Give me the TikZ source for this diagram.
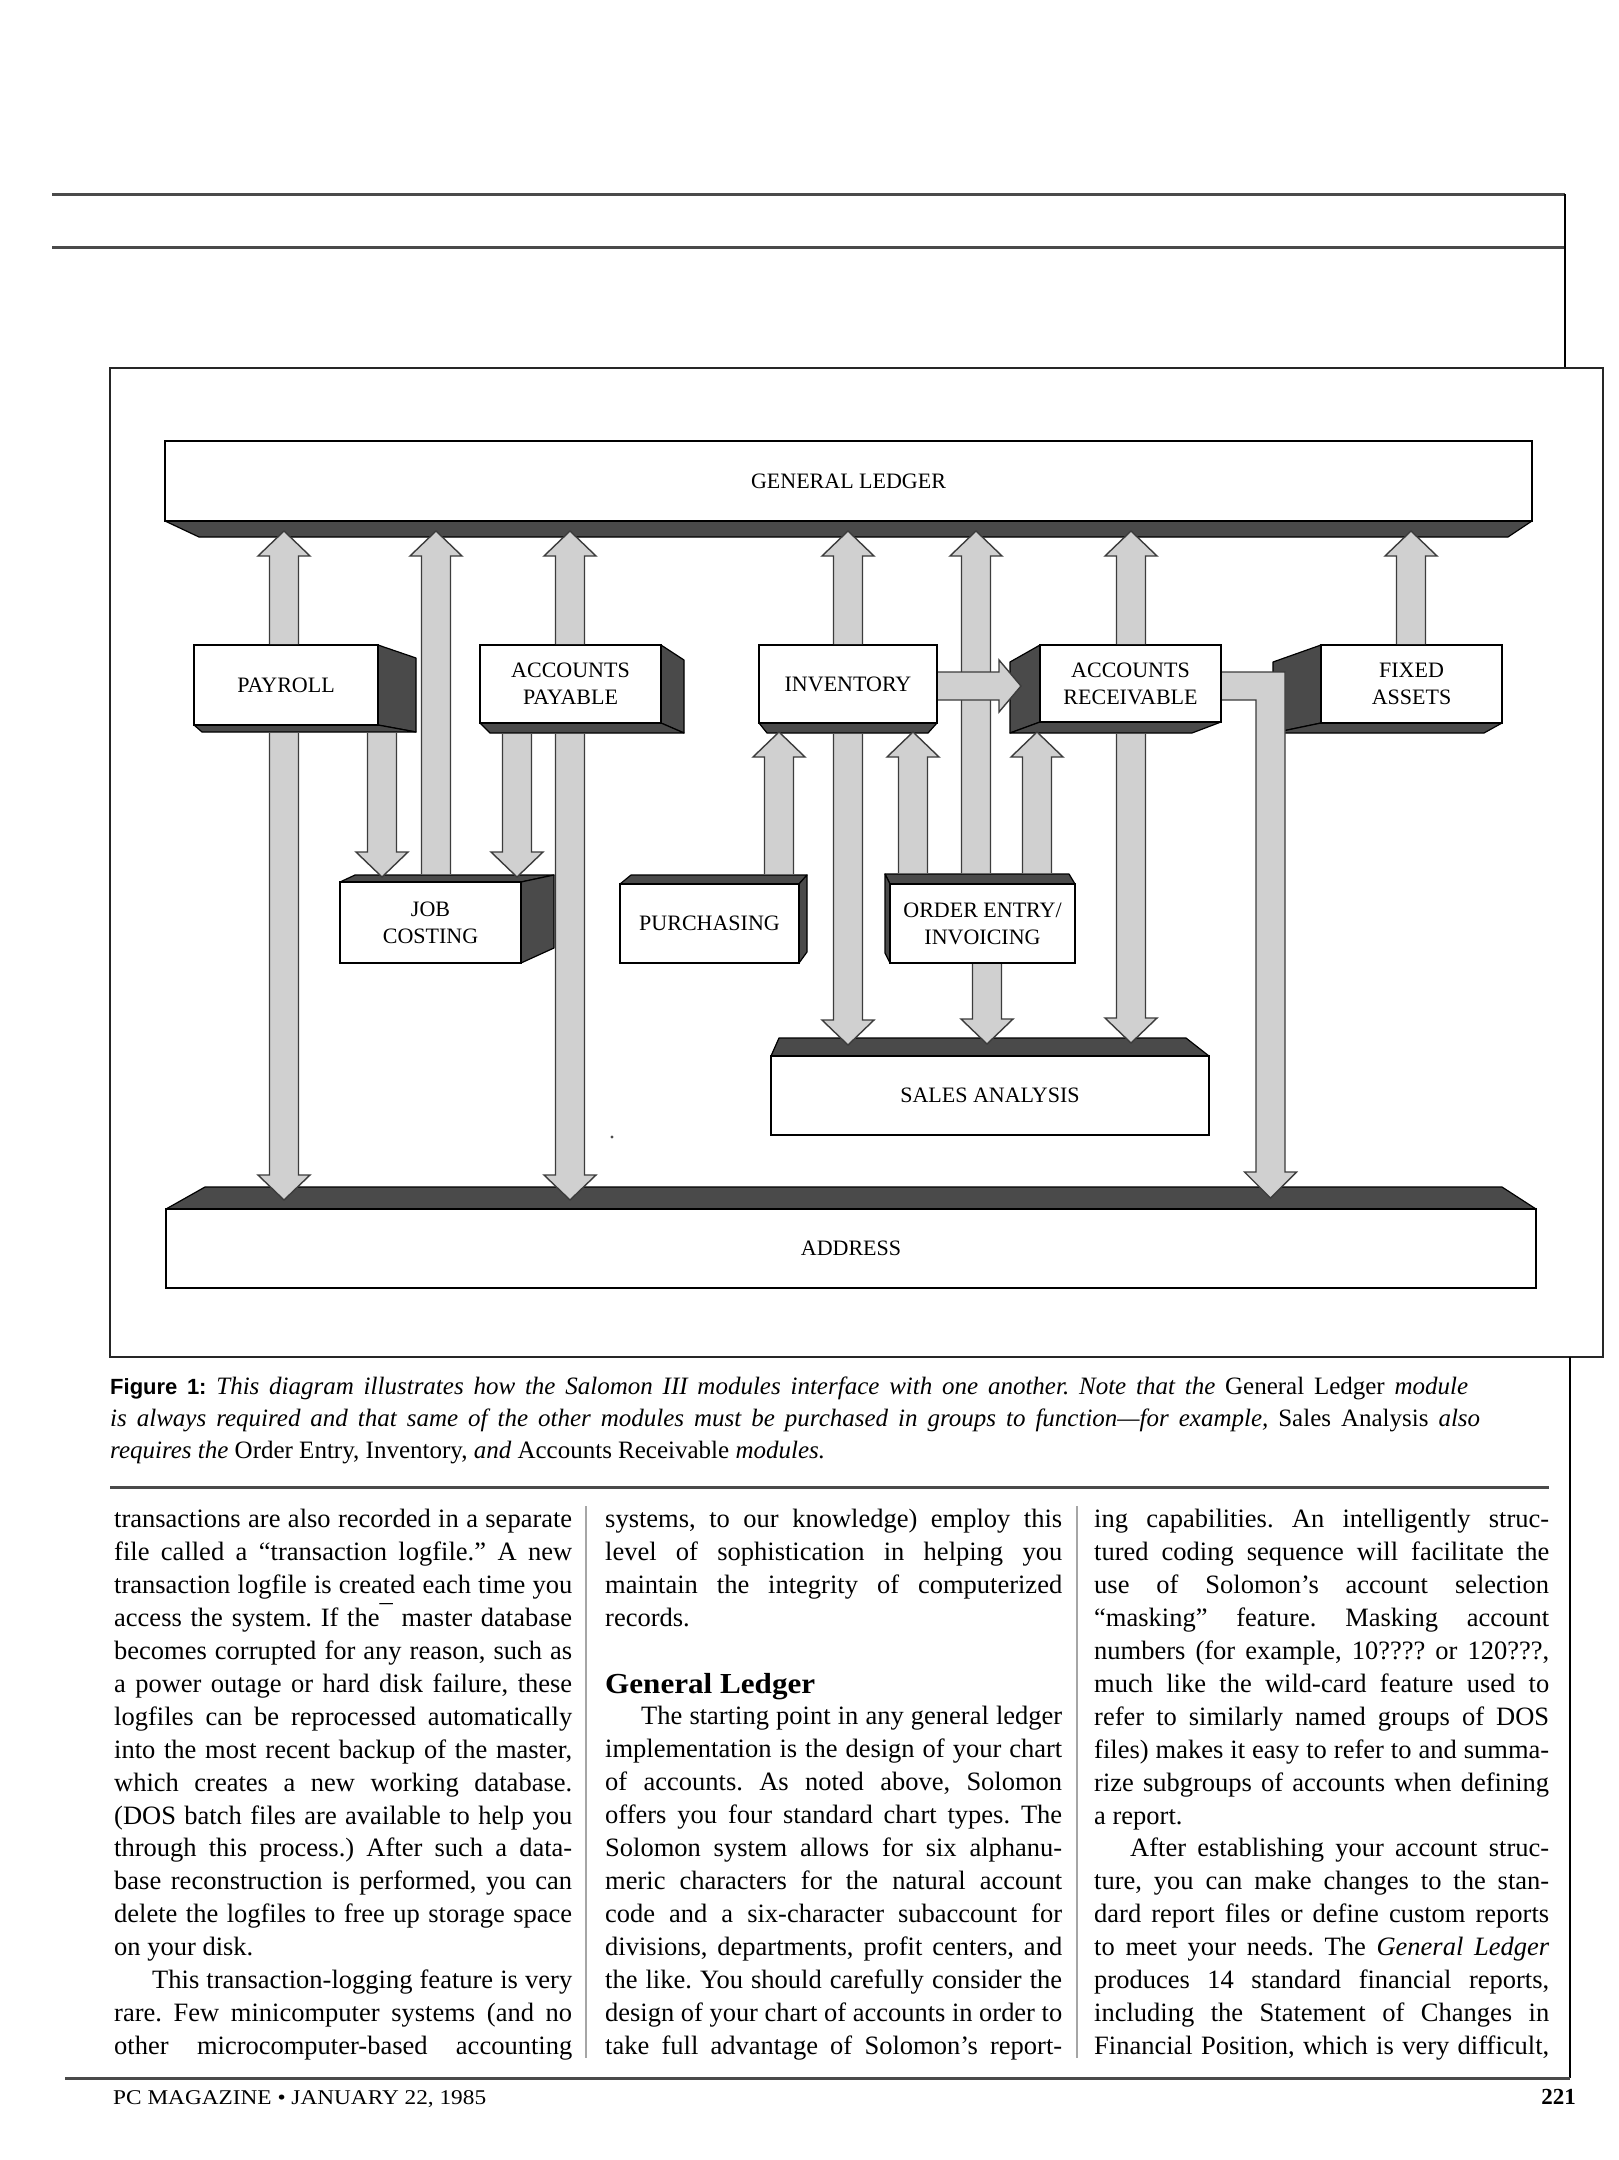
\documentclass[tikz,border=0pt]{standalone}
\usepackage{fontspec}
\setmainfont{Liberation Serif}
\newfontfamily\capsans{Liberation Sans}
\usepackage{graphicx}
\definecolor{facegray}{HTML}{4A4A4A}
\definecolor{arrowgray}{HTML}{D0D0D0}
\definecolor{arrowedge}{HTML}{3C3C3C}
\definecolor{rulegray}{HTML}{4A4A4A}
\newsavebox\jlbox
\newcommand\jline[2]{\sbox\jlbox{#2}\ifdim\wd\jlbox>#1\relax\resizebox{#1}{\height}{\usebox\jlbox}\else\makebox[#1][s]{#2}\fi}
\tikzset{
 front/.style={draw=black, fill=white, line width=1.8pt, inner sep=0pt, align=center, font=\fontsize{22}{27}\selectfont},
 face/.style={draw=black, fill=facegray, line width=1.2pt, line join=round},
 arrfill/.style={fill=arrowgray},
 arrline/.style={draw=arrowedge, line width=1.4pt, line join=miter},
 rule/.style={draw=rulegray, line width=3pt},
 thinrule/.style={draw=black, line width=1.6pt},
 colsep/.style={draw=gray!70, line width=2.2pt},
 body/.style={anchor=base west, inner sep=0pt, font=\fontsize{26.5}{33}\selectfont\frenchspacing},
 captext/.style={anchor=base west, inner sep=0pt, font=\fontsize{25}{30}\selectfont\frenchspacing},
}
% vertical block arrow: x, y of base, y of tip
\newcommand\varr[3]{%
 \pgfmathsetmacro\arrHB{#3-25*sign(#3-#2)}%
 \fill[arrfill] ({#1-14.5},#2) -- ({#1-14.5},\arrHB) -- ({#1-26},\arrHB) -- (#1,#3) -- ({#1+26},\arrHB) -- ({#1+14.5},\arrHB) -- ({#1+14.5},#2) -- cycle;
 \draw[arrline] ({#1-14.5},#2) -- ({#1-14.5},\arrHB) -- ({#1-26},\arrHB) -- (#1,#3) -- ({#1+26},\arrHB) -- ({#1+14.5},\arrHB) -- ({#1+14.5},#2);
}
\begin{document}
\frenchspacing
\begin{tikzpicture}[x=1pt,y=-1pt]
\useasboundingbox (0,0) rectangle (1618,2160);
\fill[white] (0,0) rectangle (1618,2160);

% ---------- page rules ----------
\draw[rule] (52,194) -- (1565,194);
\draw[rule] (52,247) -- (1565,247);
\draw[thinrule] (1565,194) -- (1565,368);
\draw[line width=2.4pt, draw=black!85] (110,368) rectangle (1603,1357);
\draw[thinrule] (1570,1357) -- (1570,2078);
\draw[rule] (110,1487) -- (1549,1487);
\draw[rule] (65,2078) -- (1570,2078);
\draw[colsep] (586,1506) -- (586,2058);
\draw[colsep] (1077,1506) -- (1077,2058);

% ---------- big bars ----------
\draw[face] (165,521) -- (1532,521) -- (1508,537) -- (199,537) -- cycle;
\node[front, minimum width=1367, minimum height=80] (gl) at (848.5,481) {GENERAL LEDGER};
\draw[face] (166,1209) -- (205,1187) -- (1502,1187) -- (1536,1209) -- cycle;
\node[front, minimum width=1370, minimum height=79] (addr) at (851,1248.5) {ADDRESS};
\draw[face] (771,1056) -- (779,1038) -- (1186,1038) -- (1209,1056) -- cycle;
\node[front, minimum width=438, minimum height=79] (sa) at (990,1095.5) {SALES ANALYSIS};

% ---------- module boxes, row 1 ----------
\draw[face] (378,645) -- (416,658) -- (416,732) -- (378,725) -- cycle;
\draw[face] (194,725) -- (378,725) -- (416,732) -- (202,732) -- cycle;
\node[front, minimum width=184, minimum height=80] (pay) at (286,685) {PAYROLL};

\draw[face] (661,645) -- (684,660) -- (684,733) -- (661,723) -- cycle;
\draw[face] (480,723) -- (661,723) -- (684,733) -- (490,733) -- cycle;
\node[front, minimum width=181, minimum height=78] (ap) at (570.5,684) {ACCOUNTS\\PAYABLE};

\draw[face] (759,723) -- (937,723) -- (928,733) -- (767,733) -- cycle;
\node[front, minimum width=178, minimum height=78] (inv) at (848,684) {INVENTORY};

\draw[face] (1040,645) -- (1010,662) -- (1010,733) -- (1040,722) -- cycle;
\draw[face] (1010,733) -- (1040,722) -- (1221,722) -- (1192,733) -- cycle;
\node[front, minimum width=181, minimum height=77] (ar) at (1130.5,683.5) {ACCOUNTS\\RECEIVABLE};

\draw[face] (1321,645) -- (1273,662) -- (1273,733) -- (1321,723) -- cycle;
\draw[face] (1273,733) -- (1321,723) -- (1502,723) -- (1484,733) -- cycle;
\node[front, minimum width=181, minimum height=78] (fa) at (1411.5,684) {FIXED\\ASSETS};

% ---------- module boxes, row 2 ----------
\draw[face] (340,882) -- (355,875) -- (554,875) -- (521,882) -- cycle;
\draw[face] (521,882) -- (554,875) -- (554,948) -- (521,963) -- cycle;
\node[front, minimum width=181, minimum height=81] (jc) at (430.5,922.5) {JOB\\COSTING};

\draw[face] (620,884) -- (631,875) -- (807,875) -- (799,884) -- cycle;
\draw[face] (799,884) -- (807,875) -- (807,952) -- (799,963) -- cycle;
\node[front, minimum width=179, minimum height=79] (pur) at (709.5,923.5) {PURCHASING};

\draw[face] (890,884) -- (885,874) -- (1069,874) -- (1075,884) -- cycle;
\draw[face] (890,884) -- (885,874) -- (885,953) -- (890,963) -- cycle;
\node[front, minimum width=185, minimum height=79] (oe) at (982.5,923.5) {ORDER ENTRY/\\INVOICING};

% ---------- arrows ----------
\varr{284}{644}{531}
\varr{436}{874}{531}
\varr{570}{644}{531}
\varr{848}{644}{531}
\varr{976}{873}{531}
\varr{1131}{644}{531}
\varr{1411}{644}{531}
\varr{284}{733}{1200}
\varr{570}{734}{1200}
\varr{382}{733}{877}
\varr{517}{734}{877}
\varr{848}{734}{1045}
\varr{987}{964}{1044}
\varr{1131}{734}{1043}
\varr{779}{874}{732}
\varr{913}{873}{732}
\varr{1037}{873}{732}
% inventory -> accounts receivable
\fill[arrfill] (938,672) -- (999,672) -- (999,660) -- (1021,686) -- (999,712) -- (999,700) -- (938,700) -- cycle;
\draw[arrline] (938,672) -- (999,672) -- (999,660) -- (1021,686) -- (999,712) -- (999,700) -- (938,700);
% accounts receivable -> address
\fill[arrfill] (1222,672) -- (1285,672) -- (1285,1172) -- (1296.5,1172) -- (1270.5,1198) -- (1244.5,1172) -- (1256,1172) -- (1256,700) -- (1222,700) -- cycle;
\draw[arrline] (1222,672) -- (1285,672) -- (1285,1172) -- (1296.5,1172) -- (1270.5,1198) -- (1244.5,1172) -- (1256,1172) -- (1256,700) -- (1222,700);
\fill[black!70] (612,1137) circle (1.6);

% ---------- caption ----------
\node[captext] (cap1) at (110,1394) {\jline{1358pt}{{\capsans\bfseries\fontsize{22}{24}\selectfont Figure 1:} \textit{This diagram illustrates how the Salomon III modules interface with one another. Note that the} General Ledger \textit{module}}};
\node[captext] (cap2) at (110,1426) {\jline{1370pt}{\textit{is always required and that same of the other modules must be purchased in groups to function---for example,} Sales Analysis \textit{also}}};
\node[captext] (cap3) at (110,1458) {\textit{requires the} Order Entry, Inventory, \textit{and} Accounts Receivable \textit{modules.}};

% ---------- column 1 ----------
\node[body] (a1) at (114,1527) {\jline{458pt}{transactions are also recorded in a separate}};
\node[body] (a2) at (114,1560) {\jline{458pt}{file called a ``transaction logfile.'' A new}};
\node[body] (a3) at (114,1593) {\jline{458pt}{transaction logfile is created each time you}};
\node[body] (a4) at (114,1626) {\jline{458pt}{access the system. If the\raisebox{3pt}{¯} master database}};
\node[body] (a5) at (114,1659) {\jline{458pt}{becomes corrupted for any reason, such as}};
\node[body] (a6) at (114,1692) {\jline{458pt}{a power outage or hard disk failure, these}};
\node[body] (a7) at (114,1725) {\jline{458pt}{logfiles can be reprocessed automatically}};
\node[body] (a8) at (114,1758) {\jline{458pt}{into the most recent backup of the master,}};
\node[body] (a9) at (114,1791) {\jline{458pt}{which creates a new working database.}};
\node[body] (a10) at (114,1824) {\jline{458pt}{(DOS batch files are available to help you}};
\node[body] (a11) at (114,1856) {\jline{458pt}{through this process.) After such a data-}};
\node[body] (a12) at (114,1889) {\jline{458pt}{base reconstruction is performed, you can}};
\node[body] (a13) at (114,1922) {\jline{458pt}{delete the logfiles to free up storage space}};
\node[body] (a14) at (114,1955) {on your disk.};
\node[body] (a15) at (152,1988) {\jline{420pt}{This transaction-logging feature is very}};
\node[body] (a16) at (114,2021) {\jline{458pt}{rare. Few minicomputer systems (and no}};
\node[body] (a17) at (114,2054) {\jline{458pt}{other microcomputer-based accounting}};

% ---------- column 2 ----------
\node[body] (b1) at (605,1527) {\jline{457pt}{systems, to our knowledge) employ this}};
\node[body] (b2) at (605,1560) {\jline{457pt}{level of sophistication in helping you}};
\node[body] (b3) at (605,1593) {\jline{457pt}{maintain the integrity of computerized}};
\node[body] (b4) at (605,1626) {records.};
\node[anchor=base west, inner sep=0pt, font=\fontsize{29}{33}\selectfont\bfseries] (head) at (605,1693) {\resizebox{210pt}{\height}{General Ledger}};
\node[body] (b6) at (641,1724) {\jline{421pt}{The starting point in any general ledger}};
\node[body] (b7) at (605,1757) {\jline{457pt}{implementation is the design of your chart}};
\node[body] (b8) at (605,1790) {\jline{457pt}{of accounts. As noted above, Solomon}};
\node[body] (b9) at (605,1823) {\jline{457pt}{offers you four standard chart types. The}};
\node[body] (b10) at (605,1856) {\jline{457pt}{Solomon system allows for six alphanu-}};
\node[body] (b11) at (605,1889) {\jline{457pt}{meric characters for the natural account}};
\node[body] (b12) at (605,1922) {\jline{457pt}{code and a six-character subaccount for}};
\node[body] (b13) at (605,1955) {\jline{457pt}{divisions, departments, profit centers, and}};
\node[body] (b14) at (605,1988) {\jline{457pt}{the like. You should carefully consider the}};
\node[body] (b15) at (605,2021) {\jline{457pt}{design of your chart of accounts in order to}};
\node[body] (b16) at (605,2054) {\jline{457pt}{take full advantage of Solomon's report-}};

% ---------- column 3 ----------
\node[body] (c1) at (1094,1527) {\jline{455pt}{ing capabilities. An intelligently struc-}};
\node[body] (c2) at (1094,1560) {\jline{455pt}{tured coding sequence will facilitate the}};
\node[body] (c3) at (1094,1593) {\jline{455pt}{use of Solomon's account selection}};
\node[body] (c4) at (1094,1626) {\jline{455pt}{``masking'' feature. Masking account}};
\node[body] (c5) at (1094,1659) {\jline{455pt}{numbers (for example, 10???? or 120???,}};
\node[body] (c6) at (1094,1692) {\jline{455pt}{much like the wild-card feature used to}};
\node[body] (c7) at (1094,1725) {\jline{455pt}{refer to similarly named groups of DOS}};
\node[body] (c8) at (1094,1758) {\jline{455pt}{files) makes it easy to refer to and summa-}};
\node[body] (c9) at (1094,1791) {\jline{455pt}{rize subgroups of accounts when defining}};
\node[body] (c10) at (1094,1824) {a report.};
\node[body] (c11) at (1130,1856) {\jline{419pt}{After establishing your account struc-}};
\node[body] (c12) at (1094,1889) {\jline{455pt}{ture, you can make changes to the stan-}};
\node[body] (c13) at (1094,1922) {\jline{455pt}{dard report files or define custom reports}};
\node[body] (c14) at (1094,1955) {\jline{455pt}{to meet your needs. The \textit{General Ledger}}};
\node[body] (c15) at (1094,1988) {\jline{455pt}{produces 14 standard financial reports,}};
\node[body] (c16) at (1094,2021) {\jline{455pt}{including the Statement of Changes in}};
\node[body] (c17) at (1094,2054) {\jline{455pt}{Financial Position, which is very difficult,}};

% ---------- footer ----------
\node[anchor=base west, inner sep=0pt, font=\fontsize{21}{24}\selectfont] (foot) at (113,2104) {\resizebox{373pt}{\height}{PC MAGAZINE \textbullet\ JANUARY 22, 1985}};
\node[anchor=base east, inner sep=0pt, font=\fontsize{23}{24}\selectfont\bfseries] (pg) at (1576,2104) {221};
\end{tikzpicture}
\end{document}
